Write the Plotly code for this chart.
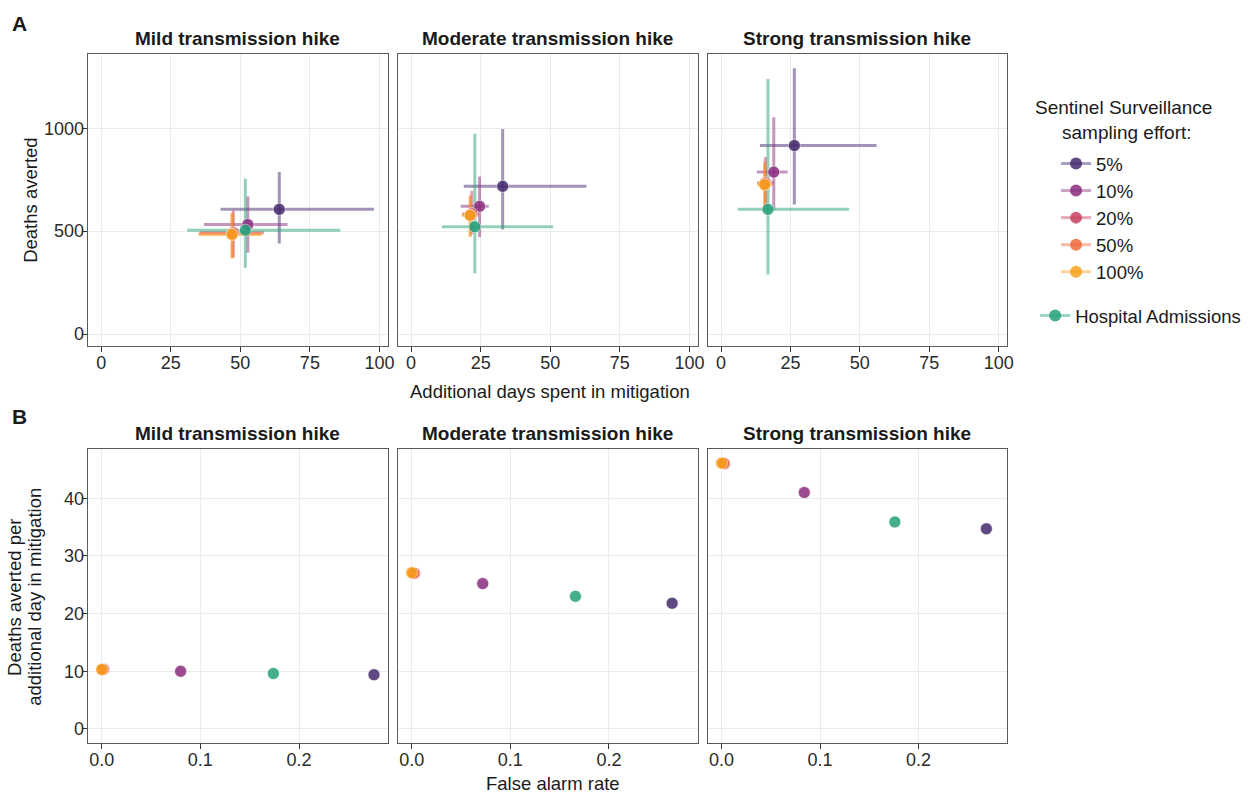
import plotly.graph_objects as go

# ---------------- data ----------------
groups = ["5%", "10%", "20%", "50%", "100%", "Hospital Admissions"]
colors = ["#452a6e", "#8a2d7e", "#c8415f", "#ef6a3a", "#f8a01c", "#25a17a"]
scenarios = ["Mild transmission hike", "Moderate transmission hike", "Strong transmission hike"]

# Panel A: additional days in mitigation (median, lower, upper)
mild_days = [64.0, 52.7, 47.5, 47.1, 47.0, 51.8]
mild_days_lo = [42.9, 36.9, 35.5, 35.0, 35.1, 30.9]
mild_days_hi = [98.0, 67.0, 58.5, 57.5, 57.7, 85.9]
moderate_days = [32.9, 24.6, 21.8, 21.3, 21.2, 22.9]
moderate_days_lo = [18.9, 17.8, 18.5, 18.2, 18.5, 11.1]
moderate_days_hi = [63.0, 27.9, 24.5, 24.2, 23.8, 51.0]
strong_days = [26.4, 19.0, 16.0, 15.8, 15.7, 16.9]
strong_days_lo = [14.0, 12.9, 13.0, 13.0, 13.1, 6.0]
strong_days_hi = [56.0, 24.0, 19.0, 18.7, 18.5, 46.1]

# Panel A: deaths averted (median, lower, upper)
mild_deaths = [606, 532, 492, 487, 484, 505]
mild_deaths_lo = [440, 395, 372, 368, 368, 322]
mild_deaths_hi = [787, 669, 600, 590, 586, 755]
moderate_deaths = [718, 621, 585, 578, 577, 521]
moderate_deaths_lo = [508, 472, 485, 475, 472, 295]
moderate_deaths_hi = [997, 766, 697, 675, 666, 973]
strong_deaths = [916, 787, 735, 730, 726, 606]
strong_deaths_lo = [630, 602, 620, 618, 618, 289]
strong_deaths_hi = [1292, 1054, 860, 840, 828, 1239]

# Panel B: false alarm rate and deaths averted per additional day in mitigation
mild_far = [0.276, 0.080, 0.002, 0.001, 0.000, 0.174]
mild_dpd = [9.4, 10.0, 10.35, 10.3, 10.3, 9.6]
moderate_far = [0.264, 0.072, 0.003, 0.002, 0.000, 0.166]
moderate_dpd = [21.8, 25.2, 27.0, 27.0, 27.1, 23.0]
strong_far = [0.269, 0.084, 0.003, 0.002, 0.000, 0.176]
strong_dpd = [34.7, 41.0, 46.0, 46.1, 46.1, 35.9]

a_xticks = [0, 25, 50, 75, 100]
a_yticks = [0, 500, 1000]
b_xticks = [0.0, 0.1, 0.2]
b_yticks = [0, 10, 20, 30, 40]

# ---------------- layout constants ----------------
W, H = 1249, 793
FONT = "Liberation Sans, Arial, Helvetica, sans-serif"
cols_px = [(88.3, 390.0), (400.0, 701.7), (711.7, 1012.7)]
rowA_px = (54.0, 346.0)
rowB_px = (449.3, 743.0)


def fx(p):
    return p / W


def fy(p):
    return 1 - p / H


def px_x(a, b):
    return [fx(a), fx(b)]


def px_y(top, bottom):
    return [fy(bottom), fy(top)]


def rgba(hexc, a):
    h = hexc.lstrip("#")
    r, g, b = int(h[0:2], 16), int(h[2:4], 16), int(h[4:6], 16)
    return f"rgba({r},{g},{b},{a})"


fig = go.Figure()

A_sets = [
    (mild_days, mild_days_lo, mild_days_hi, mild_deaths, mild_deaths_lo, mild_deaths_hi),
    (moderate_days, moderate_days_lo, moderate_days_hi, moderate_deaths, moderate_deaths_lo, moderate_deaths_hi),
    (strong_days, strong_days_lo, strong_days_hi, strong_deaths, strong_deaths_lo, strong_deaths_hi),
]
B_sets = [(mild_far, mild_dpd), (moderate_far, moderate_dpd), (strong_far, strong_dpd)]

draw_order = [0, 1, 2, 3, 4, 5]

# Panel A: error bars first, then points
for p, (xd, xlo, xhi, yd, ylo, yhi) in enumerate(A_sets):
    xa = "x" if p == 0 else f"x{p + 1}"
    ya = "y" if p == 0 else f"y{p + 1}"
    for i in draw_order:
        fig.add_trace(go.Scatter(
            x=[xd[i]], y=[yd[i]], mode="markers", xaxis=xa, yaxis=ya,
            marker=dict(size=1, opacity=0),
            error_x=dict(type="data", symmetric=False, array=[xhi[i] - xd[i]], arrayminus=[xd[i] - xlo[i]],
                         width=0, thickness=3, color=rgba(colors[i], 0.5)),
            error_y=dict(type="data", symmetric=False, array=[yhi[i] - yd[i]], arrayminus=[yd[i] - ylo[i]],
                         width=0, thickness=3, color=rgba(colors[i], 0.5)),
            showlegend=False, hoverinfo="skip"))
    for i in draw_order:
        fig.add_trace(go.Scatter(
            x=[xd[i]], y=[yd[i]], mode="markers", xaxis=xa, yaxis=ya, name=groups[i],
            marker=dict(size=12, color=colors[i], opacity=0.85, line=dict(width=0.6, color="white")),
            showlegend=False))

# Panel B: points
for p, (xf, yv) in enumerate(B_sets):
    xa = f"x{p + 4}"
    ya = f"y{p + 4}"
    for i in draw_order:
        fig.add_trace(go.Scatter(
            x=[xf[i]], y=[yv[i]], mode="markers", xaxis=xa, yaxis=ya, name=groups[i],
            marker=dict(size=12, color=colors[i], opacity=0.85, line=dict(width=0.6, color="white")),
            showlegend=False))

# Legend entries
for i, g in enumerate(groups):
    fig.add_trace(go.Scatter(
        x=[None], y=[None], mode="lines+markers", name=g, xaxis="x", yaxis="y",
        marker=dict(size=12, color=colors[i], opacity=0.85),
        line=dict(color=rgba(colors[i], 0.45), width=3),
        legend="legend2" if i == 5 else "legend", showlegend=True))

axis_common = dict(showgrid=True, gridcolor="#ebebeb", gridwidth=1, zeroline=False,
                   showline=True, mirror=True, linecolor="#5a5a5a", linewidth=1.3,
                   ticks="outside", ticklen=5, tickwidth=1, tickcolor="#333333",
                   tickfont=dict(family=FONT, size=18, color="#2b2b2b"))

layout = dict(width=W, height=H, margin=dict(l=0, r=0, t=0, b=0),
              paper_bgcolor="white", plot_bgcolor="white",
              font=dict(family=FONT, size=18, color="#1a1a1a"))

for p in range(6):
    col = p % 3
    rowA = p < 3
    xkey = "xaxis" if p == 0 else f"xaxis{p + 1}"
    ykey = "yaxis" if p == 0 else f"yaxis{p + 1}"
    anchor_y = "y" if p == 0 else f"y{p + 1}"
    anchor_x = "x" if p == 0 else f"x{p + 1}"
    xa = dict(axis_common)
    ya = dict(axis_common)
    xa.update(domain=px_x(*cols_px[col]), anchor=anchor_y, ticklabelstandoff=-5)
    ya.update(domain=px_y(*(rowA_px if rowA else rowB_px)), anchor=anchor_x, ticklabelstandoff=-6)
    if rowA:
        xa.update(range=[-4.8, 103.0], tickvals=a_xticks)
        ya.update(range=[-58, 1361], tickvals=a_yticks)
    else:
        xa.update(range=[-0.0141, 0.290], tickvals=b_xticks, tickformat=".1f")
        ya.update(range=[-2.45, 48.5], tickvals=b_yticks)
    if col > 0:
        ya.update(showticklabels=False, ticks="")
    layout[xkey] = xa
    layout[ykey] = ya

layout["legend"] = dict(x=fx(1062), xanchor="left", y=fy(145), yanchor="top",
                        bgcolor="rgba(0,0,0,0)", font=dict(family=FONT, size=18.5, color="#1a1a1a"),
                        tracegroupgap=0)
layout["legend2"] = dict(x=fx(1041), xanchor="left", y=fy(297), yanchor="top",
                         bgcolor="rgba(0,0,0,0)", font=dict(family=FONT, size=18.5, color="#1a1a1a"))

ann = []


def add_text(text, xp, yp, size, bold=False, angle=0):
    ann.append(dict(text=f"<b>{text}</b>" if bold else text, x=fx(xp), y=fy(yp),
                    xref="paper", yref="paper", showarrow=False, xanchor="center", yanchor="middle",
                    textangle=angle, font=dict(family=FONT, size=size, color="#1a1a1a")))


add_text("A", 20, 23, 21, bold=True)
add_text("B", 20, 417, 21, bold=True)
for c, s in enumerate(scenarios):
    cx = (cols_px[c][0] + cols_px[c][1]) / 2
    add_text(s, cx, 38.5, 19, bold=True)
    add_text(s, cx, 433.5, 19, bold=True)
add_text("Additional days spent in mitigation", 553, 391, 18.5)
add_text("False alarm rate", 556.5, 783, 18.5)
add_text("Deaths averted", 30, 200, 18.5, angle=-90)
add_text("Deaths averted per", 14, 597, 18.5, angle=-90)
add_text("additional day in mitigation", 34, 597, 18.5, angle=-90)
add_text("Sentinel Surveillance", 1130, 107, 19)
add_text("sampling effort:", 1133, 132, 19)
layout["annotations"] = ann

fig.update_layout(**layout)
fig.write_html("out.html", config={"displayModeBar": False},
               post_script="document.body.style.margin='0px';")
